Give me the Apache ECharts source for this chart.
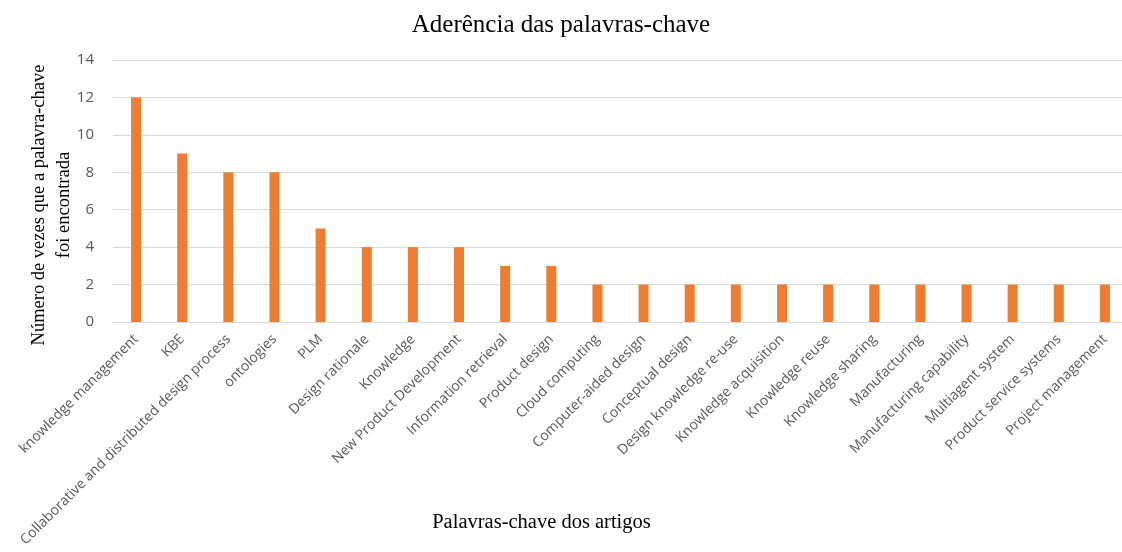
<!DOCTYPE html>
<html><head><meta charset="utf-8">
<script src="https://cdn.jsdelivr.net/npm/echarts@6/dist/echarts.min.js"></script>
<style>html,body{margin:0;padding:0;background:#fff}#c{width:1122px;height:552px}</style>
</head><body><div id="c"></div>
<script>
const categories = ["knowledge management","KBE","Collaborative and distributed design process","ontologies","PLM","Design rationale","Knowledge","New Product Development","Information retrieval","Product design","Cloud computing","Computer-aided design","Conceptual design","Design knowledge re-use","Knowledge acquisition","Knowledge reuse","Knowledge sharing","Manufacturing","Manufacturing capability","Multiagent system","Product service systems","Project management"];
const counts = [12,9,8,8,5,4,4,4,3,3,2,2,2,2,2,2,2,2,2,2,2,2];
const yTicks = [0,2,4,6,8,10,12,14];
const titleText = "Aderência das palavras-chave";
const yName = "Número de vezes que a palavra-chave\nfoi encontrada";
const xName = "Palavras-chave dos artigos";

const chart = echarts.init(document.getElementById('c'));
chart.setOption({
  animation: false,
  title: {text: titleText, left: 'center', top: 8,
    textStyle: {fontFamily: 'Liberation Serif', fontSize: 25, fontWeight: 'normal', color: '#000'}},
  grid: {left: 113, top: 60, width: 1015, height: 262, containLabel: false, outerBoundsMode: 'none'},
  xAxis: {type: 'category', data: categories,
    name: xName, nameLocation: 'middle', nameGap: 190, nameMoveOverlap: false,
    nameTextStyle: {fontFamily: 'Liberation Serif', fontSize: 20.5, color: '#000', padding: [0, 158, 0, 0]},
    axisLine: {lineStyle: {color: '#D9D9D9'}}, axisTick: {show: false},
    axisLabel: {rotate: 45, interval: 0, fontFamily: 'Open Sans', fontSize: 14, color: '#595959', margin: 15}},
  yAxis: {type: 'value', min: yTicks[0], max: yTicks[yTicks.length-1], interval: 2,
    name: yName, nameLocation: 'middle', nameGap: 36, nameMoveOverlap: false,
    nameTextStyle: {fontFamily: 'Liberation Serif', fontSize: 18.5, color: '#000', lineHeight: 25, padding: [0, 28, 0, 0]},
    axisLabel: {fontFamily: 'Open Sans', fontSize: 15, color: '#595959', margin: 19},
    splitLine: {lineStyle: {color: '#D9D9D9'}}, axisLine: {show: false}, axisTick: {show: false}},
  series: [{type: 'bar', data: counts, barWidth: 10, itemStyle: {color: '#ED7D31'}}]
});
</script></body></html>
